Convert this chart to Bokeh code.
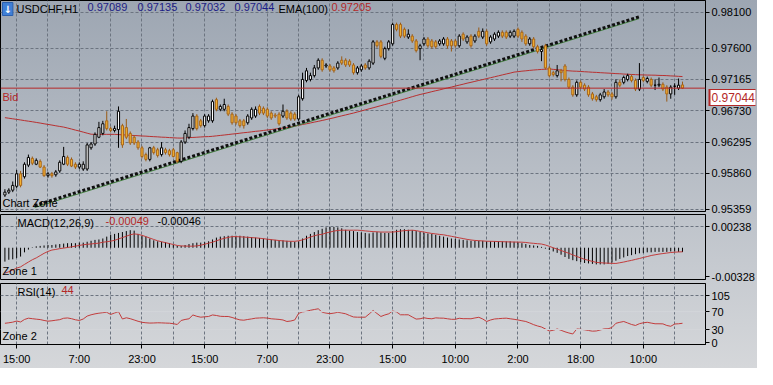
from bokeh.plotting import figure
from bokeh.layouts import column
from bokeh.models import (Range1d, FixedTicker, NumeralTickFormatter, Span, Label,
                          ColumnDataSource, Grid, LinearAxis, CustomJSTickFormatter)
from bokeh.embed import file_html
from bokeh.resources import INLINE
import numpy as np

# ---------------- data ----------------
symbol = "USDCHF,H1"
time_labels = ["15:00", "7:00", "23:00", "15:00", "7:00", "23:00", "15:00",
               "10:00", "2:00", "18:00", "10:00", "2:00"]
label_bars = [3, 19, 35, 51, 67, 83, 99, 115, 131, 147, 163, 179]
grid_bars = [3 + 8 * k for k in range(23)]

price_ticks = [0.95359, 0.95860, 0.96295, 0.96730, 0.97165, 0.97600, 0.98100]
macd_ticks = [-0.00328, 0.00238]
rsi_ticks = [0, 30, 70, 105]
rsi_levels = [30, 70]

bid = 0.97044
ema_last = 0.97205
macd_last = -0.00049
signal_last = -0.00046
rsi_last = 44

trend_bars = [7.6, 161.9]
trend_prices = [0.95412, 0.98035]
trend_shadow_prices = [0.95385, 0.98010]

open_ = [0.95559, 0.95599, 0.95626, 0.95680, 0.95854, 0.95813, 0.95974, 0.96068, 0.95987, 0.96027,
         0.95947, 0.95827, 0.95854, 0.95840, 0.95894, 0.95987, 0.96081, 0.96054, 0.95987, 0.95947,
         0.95920, 0.95920, 0.96215, 0.96268, 0.96362, 0.96415, 0.96590, 0.96482, 0.96456, 0.96469,
         0.96523, 0.96496, 0.96415, 0.96362, 0.96295, 0.96215, 0.96121, 0.96054, 0.96215, 0.96188,
         0.96121, 0.96188, 0.96175, 0.96188, 0.96148, 0.96027, 0.96295, 0.96362, 0.96482, 0.96656,
         0.96590, 0.96523, 0.96590, 0.96590, 0.96884, 0.96750, 0.96750, 0.96790, 0.96683, 0.96656,
         0.96590, 0.96590, 0.96563, 0.96630, 0.96656, 0.96790, 0.96763, 0.96750, 0.96697, 0.96670,
         0.96683, 0.96656, 0.96723, 0.96697, 0.96683, 0.96616, 0.96897, 0.97151, 0.97165, 0.97218,
         0.97325, 0.97432, 0.97352, 0.97352, 0.97325, 0.97325, 0.97432, 0.97432, 0.97419, 0.97366,
         0.97259, 0.97299, 0.97366, 0.97325, 0.97392, 0.97687, 0.97687, 0.97459, 0.97593, 0.97660,
         0.97928, 0.97928, 0.97861, 0.97754, 0.97767, 0.97700, 0.97593, 0.97660, 0.97727, 0.97700,
         0.97687, 0.97660, 0.97660, 0.97727, 0.97700, 0.97700, 0.97633, 0.97794, 0.97687, 0.97767,
         0.97700, 0.97834, 0.97754, 0.97834, 0.97687, 0.97727, 0.97767, 0.97820, 0.97820, 0.97767,
         0.97767, 0.97861, 0.97820, 0.97767, 0.97660, 0.97727, 0.97620, 0.97553, 0.97633, 0.97325,
         0.97259, 0.97218, 0.97285, 0.97352, 0.97165, 0.97058, 0.96951, 0.97125, 0.97085, 0.97058,
         0.96964, 0.96924, 0.96884, 0.96924, 0.96991, 0.96964, 0.96924, 0.97125, 0.97125, 0.97165,
         0.97205, 0.97151, 0.97031, 0.97192, 0.97138, 0.97165, 0.97085, 0.97085, 0.97098, 0.97058,
         0.96964, 0.97071, 0.97044, 0.97089]

close = [0.95599, 0.95626, 0.95693, 0.95854, 0.95693, 0.95987, 0.96081, 0.96001, 0.96041, 0.95947,
         0.95827, 0.95854, 0.95827, 0.95880, 0.96014, 0.96094, 0.95987, 0.95961, 0.95947, 0.95987,
         0.95987, 0.96255, 0.96268, 0.96402, 0.96496, 0.96549, 0.96482, 0.96456, 0.96482, 0.96723,
         0.96255, 0.96362, 0.96282, 0.96282, 0.96215, 0.96094, 0.96054, 0.96215, 0.96148, 0.96108,
         0.96215, 0.96148, 0.96121, 0.96094, 0.96027, 0.96295, 0.96415, 0.96496, 0.96656, 0.96482,
         0.96523, 0.96656, 0.96656, 0.96857, 0.96750, 0.96790, 0.96817, 0.96683, 0.96563, 0.96563,
         0.96523, 0.96523, 0.96656, 0.96750, 0.96750, 0.96697, 0.96697, 0.96656, 0.96630, 0.96656,
         0.96549, 0.96723, 0.96630, 0.96616, 0.96616, 0.96924, 0.97165, 0.97285, 0.97218, 0.97325,
         0.97432, 0.97299, 0.97366, 0.97299, 0.97285, 0.97392, 0.97392, 0.97366, 0.97366, 0.97259,
         0.97325, 0.97352, 0.97325, 0.97419, 0.97687, 0.97633, 0.97486, 0.97593, 0.97687, 0.97928,
         0.97861, 0.97767, 0.97767, 0.97794, 0.97700, 0.97566, 0.97633, 0.97727, 0.97633, 0.97620,
         0.97620, 0.97700, 0.97727, 0.97633, 0.97633, 0.97633, 0.97767, 0.97727, 0.97754, 0.97633,
         0.97767, 0.97767, 0.97834, 0.97660, 0.97754, 0.97794, 0.97820, 0.97767, 0.97754, 0.97820,
         0.97834, 0.97767, 0.97727, 0.97660, 0.97727, 0.97620, 0.97553, 0.97580, 0.97325, 0.97218,
         0.97232, 0.97285, 0.97259, 0.97165, 0.97058, 0.96951, 0.97125, 0.97058, 0.97031, 0.96951,
         0.96897, 0.96884, 0.96951, 0.96991, 0.96951, 0.96924, 0.97125, 0.97085, 0.97192, 0.97218,
         0.97151, 0.97031, 0.97165, 0.97151, 0.97178, 0.97085, 0.97085, 0.97098, 0.97031, 0.96964,
         0.97058, 0.97071, 0.97085, 0.97044]

high = [0.95640, 0.95653, 0.95747, 0.95907, 0.95894, 0.96014, 0.96121, 0.96094, 0.96068, 0.96054,
        0.95974, 0.95880, 0.95880, 0.95907, 0.96041, 0.96228, 0.96108, 0.96081, 0.96014, 0.96014,
        0.96027, 0.96282, 0.96295, 0.96429, 0.96576, 0.96590, 0.96723, 0.96509, 0.96523, 0.96790,
        0.96549, 0.96616, 0.96442, 0.96389, 0.96322, 0.96242, 0.96148, 0.96228, 0.96242, 0.96215,
        0.96295, 0.96215, 0.96201, 0.96215, 0.96161, 0.96322, 0.96456, 0.96549, 0.96697, 0.96683,
        0.96616, 0.96683, 0.96683, 0.96884, 0.96911, 0.96817, 0.96897, 0.96817, 0.96710, 0.96683,
        0.96616, 0.96616, 0.96683, 0.96777, 0.96790, 0.96817, 0.96790, 0.96777, 0.96723, 0.96697,
        0.96710, 0.96817, 0.96750, 0.96723, 0.96710, 0.96951, 0.97259, 0.97325, 0.97259, 0.97366,
        0.97459, 0.97459, 0.97392, 0.97379, 0.97352, 0.97419, 0.97486, 0.97459, 0.97446, 0.97392,
        0.97352, 0.97379, 0.97392, 0.97446, 0.97713, 0.97713, 0.97713, 0.97620, 0.97713, 0.97954,
        0.97954, 0.97954, 0.97887, 0.97861, 0.97794, 0.97727, 0.97660, 0.97754, 0.97754, 0.97727,
        0.97713, 0.97727, 0.97754, 0.97754, 0.97727, 0.97727, 0.97794, 0.97820, 0.97780, 0.97794,
        0.97794, 0.97887, 0.97874, 0.97861, 0.97780, 0.97820, 0.97847, 0.97847, 0.97847, 0.97847,
        0.97861, 0.97887, 0.97847, 0.97794, 0.97754, 0.97754, 0.97647, 0.97606, 0.97660, 0.97352,
        0.97285, 0.97366, 0.97312, 0.97379, 0.97192, 0.97085, 0.97151, 0.97151, 0.97111, 0.97085,
        0.96991, 0.96951, 0.96978, 0.97031, 0.97018, 0.96991, 0.97165, 0.97165, 0.97218, 0.97245,
        0.97232, 0.97178, 0.97392, 0.97218, 0.97205, 0.97192, 0.97165, 0.97192, 0.97125, 0.97085,
        0.97085, 0.97111, 0.97178, 0.97135]

low = [0.95532, 0.95573, 0.95599, 0.95653, 0.95666, 0.95787, 0.95947, 0.95974, 0.95974, 0.95934,
       0.95813, 0.95800, 0.95800, 0.95813, 0.95867, 0.95974, 0.95961, 0.95947, 0.95920, 0.95920,
       0.95894, 0.95894, 0.96188, 0.96242, 0.96349, 0.96389, 0.96456, 0.96429, 0.96429, 0.96215,
       0.96215, 0.96335, 0.96255, 0.96255, 0.96188, 0.96068, 0.96027, 0.96027, 0.96121, 0.96081,
       0.96094, 0.96121, 0.96094, 0.96081, 0.96001, 0.96001, 0.96268, 0.96335, 0.96456, 0.96456,
       0.96496, 0.96496, 0.96563, 0.96563, 0.96723, 0.96723, 0.96723, 0.96656, 0.96536, 0.96536,
       0.96496, 0.96482, 0.96536, 0.96603, 0.96630, 0.96670, 0.96670, 0.96630, 0.96603, 0.96630,
       0.96523, 0.96630, 0.96603, 0.96590, 0.96590, 0.96590, 0.96870, 0.97125, 0.97138, 0.97192,
       0.97299, 0.97272, 0.97325, 0.97272, 0.97259, 0.97299, 0.97366, 0.97339, 0.97339, 0.97232,
       0.97232, 0.97272, 0.97299, 0.97299, 0.97366, 0.97606, 0.97459, 0.97432, 0.97566, 0.97633,
       0.97834, 0.97740, 0.97740, 0.97727, 0.97673, 0.97540, 0.97432, 0.97633, 0.97606, 0.97593,
       0.97593, 0.97633, 0.97633, 0.97593, 0.97553, 0.97606, 0.97606, 0.97700, 0.97660, 0.97606,
       0.97673, 0.97740, 0.97727, 0.97633, 0.97660, 0.97700, 0.97740, 0.97740, 0.97727, 0.97740,
       0.97740, 0.97740, 0.97687, 0.97633, 0.97633, 0.97593, 0.97526, 0.97419, 0.97299, 0.97192,
       0.97205, 0.97192, 0.97138, 0.97138, 0.97031, 0.96924, 0.96924, 0.97031, 0.97004, 0.96924,
       0.96870, 0.96857, 0.96857, 0.96897, 0.96924, 0.96884, 0.96897, 0.97058, 0.97098, 0.97138,
       0.97125, 0.97004, 0.97004, 0.97125, 0.97111, 0.97058, 0.97018, 0.97058, 0.97004, 0.96857,
       0.96897, 0.96951, 0.97018, 0.97032]

ema100 = [0.96634, 0.96626, 0.96618, 0.96610, 0.96602, 0.96593, 0.96585, 0.96577, 0.96568, 0.96559,
          0.96549, 0.96540, 0.96531, 0.96521, 0.96512, 0.96503, 0.96490, 0.96476, 0.96461, 0.96448,
          0.96433, 0.96418, 0.96404, 0.96402, 0.96402, 0.96402, 0.96402, 0.96402, 0.96402, 0.96399,
          0.96395, 0.96393, 0.96389, 0.96386, 0.96383, 0.96379, 0.96377, 0.96373, 0.96370, 0.96367,
          0.96363, 0.96361, 0.96357, 0.96354, 0.96351, 0.96350, 0.96353, 0.96357, 0.96359, 0.96362,
          0.96366, 0.96369, 0.96371, 0.96375, 0.96381, 0.96387, 0.96393, 0.96399, 0.96406, 0.96411,
          0.96418, 0.96425, 0.96430, 0.96437, 0.96444, 0.96449, 0.96456, 0.96463, 0.96469, 0.96476,
          0.96482, 0.96489, 0.96495, 0.96505, 0.96516, 0.96527, 0.96539, 0.96549, 0.96560, 0.96572,
          0.96583, 0.96595, 0.96607, 0.96620, 0.96632, 0.96646, 0.96659, 0.96672, 0.96685, 0.96698,
          0.96713, 0.96727, 0.96742, 0.96757, 0.96771, 0.96786, 0.96801, 0.96816, 0.96830, 0.96846,
          0.96862, 0.96877, 0.96893, 0.96909, 0.96925, 0.96941, 0.96956, 0.96968, 0.96981, 0.96995,
          0.97008, 0.97020, 0.97034, 0.97047, 0.97059, 0.97073, 0.97086, 0.97099, 0.97113, 0.97125,
          0.97138, 0.97151, 0.97163, 0.97177, 0.97189, 0.97202, 0.97215, 0.97228, 0.97241, 0.97253,
          0.97267, 0.97273, 0.97280, 0.97285, 0.97291, 0.97296, 0.97300, 0.97304, 0.97308, 0.97312,
          0.97305, 0.97300, 0.97295, 0.97289, 0.97285, 0.97281, 0.97279, 0.97276, 0.97272, 0.97269,
          0.97265, 0.97263, 0.97259, 0.97256, 0.97253, 0.97250, 0.97246, 0.97244, 0.97240, 0.97237,
          0.97234, 0.97232, 0.97229, 0.97228, 0.97226, 0.97225, 0.97224, 0.97221, 0.97220, 0.97218,
          0.97214, 0.97212, 0.97208, 0.97205]

macd = [-0.00157, -0.00136, -0.00131, -0.00115, -0.00100, -0.00052, -0.00021, 0.00005, 0.00016, 0.00021,
        0.00026, 0.00031, 0.00031, 0.00037, 0.00042, 0.00047, 0.00052, 0.00052, 0.00052, 0.00058,
        0.00058, 0.00068, 0.00079, 0.00089, 0.00094, 0.00105, 0.00126, 0.00147, 0.00157, 0.00168,
        0.00178, 0.00189, 0.00199, 0.00194, 0.00157, 0.00136, 0.00126, 0.00105, 0.00084, 0.00073,
        0.00068, 0.00063, 0.00052, 0.00031, 0.00021, 0.00021, 0.00031, 0.00042, 0.00052, 0.00058,
        0.00058, 0.00063, 0.00073, 0.00094, 0.00115, 0.00126, 0.00131, 0.00136, 0.00136, 0.00136,
        0.00136, 0.00131, 0.00126, 0.00121, 0.00115, 0.00110, 0.00105, 0.00100, 0.00094, 0.00089,
        0.00084, 0.00084, 0.00079, 0.00073, 0.00068, 0.00073, 0.00105, 0.00136, 0.00157, 0.00178,
        0.00199, 0.00215, 0.00231, 0.00236, 0.00236, 0.00231, 0.00220, 0.00204, 0.00194, 0.00189,
        0.00178, 0.00173, 0.00168, 0.00162, 0.00173, 0.00178, 0.00173, 0.00168, 0.00168, 0.00189,
        0.00204, 0.00210, 0.00210, 0.00204, 0.00199, 0.00189, 0.00178, 0.00168, 0.00162, 0.00157,
        0.00147, 0.00136, 0.00126, 0.00115, 0.00105, 0.00100, 0.00094, 0.00089, 0.00084, 0.00079,
        0.00079, 0.00079, 0.00079, 0.00073, 0.00073, 0.00073, 0.00073, 0.00073, 0.00073, 0.00073,
        0.00068, 0.00063, 0.00052, 0.00042, 0.00031, 0.00026, 0.00021, 0.00010, -0.00010, -0.00026,
        -0.00042, -0.00058, -0.00079, -0.00105, -0.00126, -0.00141, -0.00152, -0.00162, -0.00173, -0.00178,
        -0.00183, -0.00189, -0.00189, -0.00189, -0.00183, -0.00168, -0.00147, -0.00126, -0.00110, -0.00094,
        -0.00084, -0.00073, -0.00063, -0.00058, -0.00052, -0.00052, -0.00047, -0.00047, -0.00047, -0.00047,
        -0.00042, -0.00042, -0.00047, -0.00049]

signal = [-0.00288, -0.00272, -0.00252, -0.00231, -0.00217, -0.00189, -0.00162, -0.00136, -0.00115, -0.00089,
          -0.00063, -0.00042, -0.00026, -0.00019, -0.00010, -0.00004, 0.00003, 0.00010, 0.00018, 0.00026,
          0.00034, 0.00039, 0.00043, 0.00048, 0.00052, 0.00063, 0.00068, 0.00075, 0.00084, 0.00100,
          0.00115, 0.00131, 0.00147, 0.00157, 0.00152, 0.00141, 0.00126, 0.00110, 0.00094, 0.00079,
          0.00068, 0.00058, 0.00047, 0.00037, 0.00026, 0.00021, 0.00019, 0.00018, 0.00018, 0.00021,
          0.00029, 0.00040, 0.00052, 0.00063, 0.00079, 0.00094, 0.00107, 0.00117, 0.00126, 0.00126,
          0.00124, 0.00121, 0.00118, 0.00115, 0.00112, 0.00108, 0.00103, 0.00097, 0.00092, 0.00087,
          0.00082, 0.00078, 0.00074, 0.00073, 0.00073, 0.00079, 0.00089, 0.00105, 0.00121, 0.00136,
          0.00147, 0.00152, 0.00168, 0.00178, 0.00189, 0.00196, 0.00199, 0.00199, 0.00199, 0.00199,
          0.00199, 0.00196, 0.00191, 0.00187, 0.00183, 0.00181, 0.00178, 0.00178, 0.00178, 0.00178,
          0.00183, 0.00189, 0.00194, 0.00197, 0.00199, 0.00194, 0.00185, 0.00178, 0.00170, 0.00162,
          0.00157, 0.00151, 0.00147, 0.00138, 0.00130, 0.00121, 0.00112, 0.00104, 0.00095, 0.00088,
          0.00083, 0.00080, 0.00077, 0.00074, 0.00073, 0.00072, 0.00070, 0.00069, 0.00067, 0.00066,
          0.00065, 0.00064, 0.00063, 0.00060, 0.00054, 0.00050, 0.00046, 0.00042, 0.00031, 0.00016,
          0.00000, -0.00016, -0.00031, -0.00047, -0.00063, -0.00081, -0.00099, -0.00115, -0.00131, -0.00143,
          -0.00155, -0.00166, -0.00170, -0.00173, -0.00175, -0.00177, -0.00178, -0.00170, -0.00162, -0.00152,
          -0.00143, -0.00132, -0.00122, -0.00110, -0.00100, -0.00088, -0.00080, -0.00072, -0.00066, -0.00060,
          -0.00054, -0.00050, -0.00048, -0.00046]

rsi = [44.0, 45.1, 46.5, 49.1, 46.9, 52.5, 55.4, 54.3, 53.2, 52.3,
       50.3, 48.7, 49.6, 50.9, 52.1, 55.2, 55.9, 54.3, 51.8, 50.3,
       53.6, 60.1, 63.0, 65.0, 66.6, 67.7, 68.6, 63.7, 67.0, 69.9,
       53.6, 56.3, 54.3, 51.4, 48.5, 46.2, 45.1, 44.5, 44.7, 45.1,
       44.9, 44.5, 44.2, 43.1, 41.3, 50.3, 52.5, 54.1, 62.6, 59.6,
       57.6, 58.5, 59.2, 62.6, 61.4, 59.6, 59.2, 59.2, 57.0, 54.1,
       51.6, 50.9, 52.5, 53.8, 55.4, 55.9, 56.3, 55.6, 54.1, 53.4,
       52.7, 51.4, 48.0, 49.1, 51.4, 66.3, 69.3, 70.8, 73.1, 74.8,
       76.4, 68.6, 66.8, 65.5, 66.8, 68.6, 67.0, 65.2, 61.4, 58.1,
       57.6, 57.6, 57.6, 64.8, 72.6, 65.9, 59.2, 62.6, 65.2, 71.5,
       69.3, 63.0, 63.0, 63.0, 58.1, 53.4, 54.1, 56.3, 54.7, 54.1,
       56.1, 55.6, 55.4, 54.1, 52.9, 52.9, 55.2, 54.3, 54.3, 54.1,
       55.9, 57.4, 53.6, 48.0, 51.4, 53.6, 54.3, 55.0, 55.4, 54.1,
       52.9, 51.4, 49.6, 48.0, 44.7, 40.9, 38.0, 35.7, 31.3, 26.8,
       28.4, 31.3, 28.4, 25.0, 22.3, 20.1, 31.3, 30.6, 29.5, 27.9,
       26.4, 26.8, 29.0, 31.5, 31.7, 34.6, 44.0, 46.2, 48.0, 44.7,
       41.3, 39.1, 43.1, 45.1, 46.2, 44.5, 42.9, 42.9, 42.7, 39.1,
       37.3, 42.4, 42.9, 44.0]

for arr in (open_, close, high, low, ema100, macd, signal, rsi):
    assert len(arr) == 174, len(arr)

# ---------------- style ----------------
FONT = "Liberation Sans"
FS = "11px"
RED = "#b42828"
NAVY = "#1c1c86"
GRID = "#6c7480"
W = 757
RIGHT = 50

x_range = Range1d(-1.125, 178.875)


def make_fig(height, y_range, border_bottom, with_xaxis=False):
    p = figure(width=W, height=height, x_range=x_range, y_range=y_range,
               output_backend="svg", toolbar_location=None, tools="",
               y_axis_location="right",
               x_axis_location="below" if with_xaxis else None,
               min_border_left=0, min_border_right=RIGHT, min_border_top=0,
               min_border_bottom=border_bottom)
    p.background_fill_color = None
    p.border_fill_color = None
    p.outline_line_color = "black"
    p.outline_line_width = 1
    grids = list(p.xgrid)
    if not grids:
        g = Grid(dimension=0)
        p.add_layout(g)
        grids = [g]
    for g in grids:
        g.ticker = FixedTicker(ticks=grid_bars)
        g.grid_line_color = GRID
        g.grid_line_dash = "3 2"
    return p


def style_axis(ax, size=FS, color="black"):
    ax.major_label_text_font = FONT
    ax.major_label_text_font_size = size
    ax.major_label_text_color = color
    ax.axis_line_color = "black"
    ax.major_tick_line_color = "black"
    ax.major_tick_in = 0
    ax.major_tick_out = 4
    ax.minor_tick_line_color = None


def style_yaxis(p, ticks, fmt, grid_ticks=None):
    ax = p.yaxis[0]
    ax.ticker = FixedTicker(ticks=ticks)
    ax.formatter = NumeralTickFormatter(format=fmt)
    style_axis(ax)
    ax.major_label_standoff = 2
    g = p.ygrid[0]
    g.grid_line_color = GRID
    g.grid_line_dash = "3 2"
    if grid_ticks is not None:
        g.ticker = FixedTicker(ticks=grid_ticks)


def add_text(p, text, x, y, xoff, yoff, color="black", baseline="top", **kw):
    p.add_layout(Label(x=x, y=y, x_offset=xoff, y_offset=yoff, text=text,
                       text_font=FONT, text_font_size=FS, text_color=color,
                       text_baseline=baseline, **kw))


xs = np.arange(len(close))
o = np.array(open_)
c = np.array(close)
hi = np.array(high)
lo = np.array(low)
bull = c >= o
bear = ~bull

# ---------------- main price panel ----------------
MAIN_H, MAIN_B = 214, 3
main_y = Range1d(0.95330, 0.98262)
p1 = make_fig(MAIN_H, main_y, MAIN_B)
style_yaxis(p1, price_ticks, "0.00000")

p1.add_layout(Span(location=bid, dimension="width", line_color=RED, line_width=1))

p1.line(xs, ema100, line_color="#b83030", line_width=1)

p1.line(trend_bars, trend_shadow_prices, line_color="#3f7f3a", line_width=1)
p1.line(trend_bars, trend_prices, line_color="#101010", line_width=3, line_dash="3 2")

src_bull = ColumnDataSource(dict(x=xs[bull], o=o[bull], c=c[bull], h=hi[bull], l=lo[bull]))
src_bear = ColumnDataSource(dict(x=xs[bear], o=o[bear], c=c[bear], h=hi[bear], l=lo[bear]))
p1.segment(x0="x", y0="l", x1="x", y1="h", source=src_bear, line_color="#9a5a14", line_width=1)
p1.segment(x0="x", y0="l", x1="x", y1="h", source=src_bull, line_color="black", line_width=1)
p1.vbar(x="x", top="o", bottom="c", width=0.55, source=src_bear,
        fill_color="#f4b232", line_color="#a8661a", line_width=1)
p1.vbar(x="x", top="c", bottom="o", width=0.55, source=src_bull,
        fill_color="white", line_color="black", line_width=1)

top1 = main_y.end
x0 = x_range.start
p1.add_layout(Label(x=x0, y=top1, x_offset=2, y_offset=-2, text="\u2193",
                    text_font="DejaVu Sans", text_font_size="10px", text_font_style="bold",
                    text_color="white", text_baseline="top",
                    background_fill_color="#3f7fd6", border_line_color="#2a5fae",
                    padding=1))
add_text(p1, symbol, x0, top1, 16, -2)
add_text(p1, "%.5f" % open_[-1], x0, top1, 87, -2, NAVY)
add_text(p1, "%.5f" % high[-1], x0, top1, 137, -2, NAVY)
add_text(p1, "%.5f" % low[-1], x0, top1, 185, -2, NAVY)
add_text(p1, "%.5f" % close[-1], x0, top1, 234, -2, NAVY)
add_text(p1, "EMA(100)", x0, top1, 278, -2)
add_text(p1, "%.5f" % ema_last, x0, top1, 331, -2, RED)
add_text(p1, "Bid", x0, bid, 2, -3, RED)
add_text(p1, "Chart Zone", x0, main_y.start, 2, 3, baseline="bottom")

# bid price tag in the axis margin, built from extra right axes:
# two wide tick strokes (red then white) form the box, a third axis writes the text
px_per_unit = (MAIN_H - MAIN_B) / (main_y.end - main_y.start)
tag_pos = bid - 9.5 / px_per_unit          # tag sits just under the bid line
empty_fmt = CustomJSTickFormatter(code="return ''")


def tag_box_axis(color, width, tick_in, tick_out):
    ax = LinearAxis(ticker=FixedTicker(ticks=[tag_pos]), formatter=empty_fmt)
    ax.axis_line_color = None
    ax.minor_tick_line_color = None
    ax.major_tick_line_color = color
    ax.major_tick_line_width = width
    ax.major_tick_line_cap = "butt"
    ax.major_tick_in = tick_in
    ax.major_tick_out = tick_out
    ax.major_label_standoff = 0
    ax.major_label_text_font_size = "0px"
    return ax


p1.add_layout(tag_box_axis(RED, 17, 46, 1), "right")
p1.add_layout(tag_box_axis("white", 15, 45, 0), "right")

bid_axis = LinearAxis(ticker=FixedTicker(ticks=[tag_pos]),
                      formatter=CustomJSTickFormatter(args=dict(txt="%.5f" % bid),
                                                      code="return txt"))
style_axis(bid_axis, size="12px", color=RED)
bid_axis.axis_line_color = None
bid_axis.major_tick_line_color = None
bid_axis.major_tick_out = 0
bid_axis.major_label_standoff = -44
p1.add_layout(bid_axis, "right")

# ---------------- MACD panel ----------------
macd_y = Range1d(-0.00360, 0.00377)
p2 = make_fig(69, macd_y, 4)
style_yaxis(p2, macd_ticks, "0.00000", grid_ticks=[0.00238])
p2.segment(x0=xs, y0=np.zeros(len(xs)), x1=xs, y1=macd, line_color="black", line_width=1)
p2.line(xs, signal, line_color="#c23c3c", line_width=1)
add_text(p2, "MACD(12,26,9)", x0, macd_y.end, 17, -2)
add_text(p2, "%.5f" % macd_last, x0, macd_y.end, 105, -2, RED)
add_text(p2, "%.5f" % signal_last, x0, macd_y.end, 157, -2)
add_text(p2, "Zone 1", x0, macd_y.start, 2, 3, baseline="bottom")

# ---------------- RSI panel ----------------
rsi_y = Range1d(-3.4, 132.9)
p3 = make_fig(85, rsi_y, 24, with_xaxis=True)
style_yaxis(p3, rsi_ticks, "0", grid_ticks=[105])
for lv in rsi_levels:
    p3.add_layout(Span(location=lv, dimension="width", line_color="#d3d6da", line_width=1))
p3.line(xs, rsi, line_color="#c23c3c", line_width=1)
add_text(p3, "RSI(14)", x0, rsi_y.end, 17, -2)
add_text(p3, "%d" % rsi_last, x0, rsi_y.end, 61, -2, RED)
add_text(p3, "Zone 2", x0, rsi_y.start, 2, 3, baseline="bottom")

xa = p3.xaxis[0]
xa.ticker = FixedTicker(ticks=label_bars)
xa.major_label_overrides = {b: t for b, t in zip(label_bars, time_labels)}
style_axis(xa)
xa.major_label_standoff = 4

layout = column(p1, p2, p3, spacing=0,
                styles={"background": "linear-gradient(to bottom, #9da6b2 0%, #bfc4cb 60%, #d5d7da 100%)"})

open("out.html", "w").write(file_html(layout, INLINE, title=symbol))
